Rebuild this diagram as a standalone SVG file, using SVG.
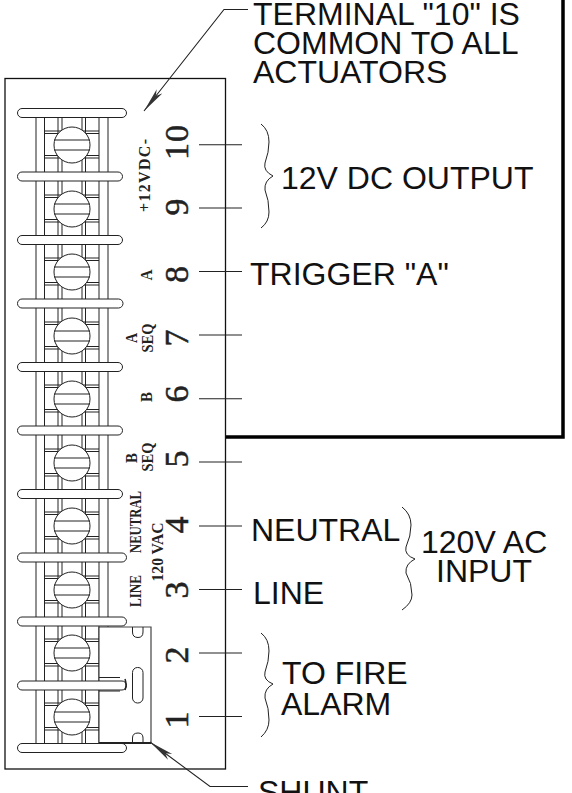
<svg xmlns="http://www.w3.org/2000/svg" width="572" height="793" viewBox="0 0 572 793">
<style>
.l{fill:none;stroke:#222;stroke-width:1}
.m{fill:none;stroke:#222;stroke-width:1.1}
.w{fill:#fff;stroke:#222;stroke-width:1}
.t{font-family:"Liberation Sans",Arial,sans-serif;font-size:32px;fill:#111}
.d{font-family:"Liberation Serif","Times New Roman",serif;font-size:34px;fill:#222;stroke:#222;stroke-width:0.5;text-anchor:middle}
.s{font-family:"Liberation Serif","Times New Roman",serif;font-size:16px;font-weight:bold;fill:#222;text-anchor:middle}
</style>
<defs>
<g id="cell">
<path class="l" d="M36 0V64M44.500 0V64M58 0V64M62 0V64M82 0V64M85.500 0V64M99 0V64M108 0V64"/>
<path class="l" d="M44.500 18H99M44.500 20.500H99M44.500 42.500H99M44.500 45H99"/>
<circle class="w" cx="72" cy="32" r="18"/>
<path class="l" d="M54 27H90M54 37H90"/>
</g>
<marker id="ah" markerWidth="26" markerHeight="10" refX="25" refY="4" orient="auto" markerUnits="userSpaceOnUse"><path d="M0 0.500L6 4L0 7.500L25 4Z" fill="#333"/></marker>
</defs>
<rect width="572" height="793" fill="#fff"/>
<g id="enclosure"><path d="M563 0V437H226" fill="none" stroke="#000" stroke-width="3.500"/></g>
<g id="panel"><rect x="5" y="78.500" width="220.500" height="690.500" fill="#fff" stroke="#111" stroke-width="1.300"/></g>
<g id="terminal-strip">
<use href="#cell" y="113"/><use href="#cell" y="177"/><use href="#cell" y="240"/><use href="#cell" y="304"/><use href="#cell" y="367"/><use href="#cell" y="431"/><use href="#cell" y="494"/><use href="#cell" y="558"/><use href="#cell" y="621"/><use href="#cell" y="685"/>
<g class="w">
<rect x="17.500" y="108.500" width="109" height="9" rx="4.500"/>
<rect x="17.500" y="172" width="105" height="9" rx="4.500"/>
<rect x="17.500" y="235.500" width="105" height="9" rx="4.500"/>
<rect x="17.500" y="299" width="105.500" height="9" rx="4.500"/>
<rect x="17.500" y="362.500" width="105" height="9" rx="4.500"/>
<rect x="17.500" y="426" width="105" height="9" rx="4.500"/>
<rect x="17.500" y="489.500" width="105" height="9" rx="4.500"/>
<rect x="17.500" y="553" width="109" height="9" rx="4.500"/>
<rect x="17.500" y="617" width="109" height="9" rx="4.500"/>
<rect x="17.500" y="743.500" width="109" height="9" rx="4.500"/>
</g>
</g>
<g id="shunt">
<path d="M99 627H151V743H99Z" fill="#fff" stroke="none"/>
<path d="M99 627H151V743" fill="none" stroke="#444" stroke-width="1.200"/>
<path d="M99 627V743" fill="none" stroke="#222" stroke-width="1"/>
<path class="l" d="M99 677.500H120M99 691H120"/>
<rect class="w" x="17.500" y="681" width="109" height="9" rx="4.500"/>
<path d="M125 679Q127 685 125 690" fill="none" stroke="#222" stroke-width="1.500"/>
<path class="l" d="M132.500 627V632Q132.500 637.500 138 637.500Q143 637.500 143 632V627M132.500 743V738Q132.500 733 138 733Q143 733 143 738V743"/>
<rect class="w" x="132.500" y="667.500" width="10.500" height="35.500" rx="5"/>
<path d="M99 743H151" stroke="#222" stroke-width="1.800" fill="none"/>
</g>
<g id="connectors" class="m">
<path d="M199 144.700H242M199 208H242M199 271.500H242M199 335H242M199 398.700H242M199 462H242M199 526H242M199 589.500H242M199 653H242M199 716.500H242"/>
<path d="M248 9.500H224L144 111" marker-end="url(#ah)"/>
<path d="M248 786.500H210L150 742" marker-end="url(#ah)"/>
<path class="l" d="M261 124Q269 130 269 142Q269 152 265 163Q263 171 273 176Q264 181 265 190Q269 200 269 212Q269 222 261 228"/>
<path class="l" d="M402 507Q411 514 411 525Q411 536 406 547Q404 555 415 559Q405 564 406 573Q412 583 412 595Q412 603 402 610"/>
<path class="l" d="M261 633Q269 639 269 651Q269 661 265 672Q263 680 273 684Q264 689 265 698Q269 708 269 720Q269 730 261 737"/>
</g>
<g id="labels">
<text class="t" x="253" y="25">TERMINAL "10" IS</text>
<text class="t" x="253" y="54">COMMON TO ALL</text>
<text class="t" x="253" y="83">ACTUATORS</text>
<text class="t" x="281" y="189">12V DC OUTPUT</text>
<text class="t" x="250" y="285">TRIGGER "A"</text>
<text class="t" x="251" y="541">NEUTRAL</text>
<text class="t" x="253" y="604">LINE</text>
<text class="t" x="421" y="553">120V AC</text>
<text class="t" x="436" y="582">INPUT</text>
<text class="t" x="282" y="684">TO FIRE</text>
<text class="t" x="281" y="715">ALARM</text>
<text class="t" x="258" y="803">SHUNT</text>
</g>
<g id="terminal-numbers">
<text class="d" transform="translate(188 142.500) rotate(-90)" textLength="35">10</text>
<text class="d" transform="translate(188 207) rotate(-90)">9</text>
<text class="d" transform="translate(188 274.500) rotate(-90)">8</text>
<text class="d" transform="translate(188 338) rotate(-90)">7</text>
<text class="d" transform="translate(188 394) rotate(-90)">6</text>
<text class="d" transform="translate(188 459) rotate(-90)">5</text>
<text class="d" transform="translate(188 525) rotate(-90)">4</text>
<text class="d" transform="translate(188 590) rotate(-90)">3</text>
<text class="d" transform="translate(188 655) rotate(-90)">2</text>
<text class="d" transform="translate(188 720) rotate(-90)">1</text>
</g>
<g id="function-labels">
<text class="s" transform="translate(150 175.500) rotate(-90)" textLength="73" lengthAdjust="spacing">+12VDC-</text>
<text class="s" transform="translate(152 275) rotate(-90)" textLength="11" lengthAdjust="spacingAndGlyphs">A</text>
<text class="s" transform="translate(137 338) rotate(-90)" textLength="10" lengthAdjust="spacingAndGlyphs">A</text>
<text class="s" transform="translate(153 338) rotate(-90)" textLength="29" lengthAdjust="spacingAndGlyphs">SEQ</text>
<text class="s" transform="translate(152 397) rotate(-90)" textLength="10" lengthAdjust="spacingAndGlyphs">B</text>
<text class="s" transform="translate(137 458) rotate(-90)" textLength="10" lengthAdjust="spacingAndGlyphs">B</text>
<text class="s" transform="translate(153 457) rotate(-90)" textLength="29" lengthAdjust="spacingAndGlyphs">SEQ</text>
<text class="s" transform="translate(141 522) rotate(-90)" textLength="62" lengthAdjust="spacingAndGlyphs">NEUTRAL</text>
<text class="s" transform="translate(163 552) rotate(-90)" textLength="59" lengthAdjust="spacingAndGlyphs">120 VAC</text>
<text class="s" transform="translate(141 591) rotate(-90)" textLength="32" lengthAdjust="spacingAndGlyphs">LINE</text>
</g>
</svg>
